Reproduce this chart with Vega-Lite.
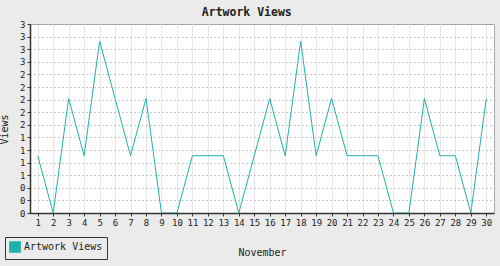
{
  "$schema": "https://vega.github.io/schema/vega-lite/v6.json",
  "width": 464,
  "height": 189,
  "autosize": {"type": "none"},
  "padding": {"left": 30, "top": 24, "right": 6, "bottom": 53},
  "background": "#ebebeb",
  "title": {"text": "Artwork Views", "font": "DejaVu Sans Mono", "fontSize": 11.5, "fontWeight": "bold", "color": "#222222", "offset": 2, "frame": "bounds"},
  "config": {
    "view": {"stroke": "#aaaaaa", "fill": "white"},
    "font": "DejaVu Sans Mono"
  },
  "data": {"values": [
    {"day": 1, "views": 1, "series": "Artwork Views"},
    {"day": 2, "views": 0, "series": "Artwork Views"},
    {"day": 3, "views": 2, "series": "Artwork Views"},
    {"day": 4, "views": 1, "series": "Artwork Views"},
    {"day": 5, "views": 3, "series": "Artwork Views"},
    {"day": 6, "views": 2, "series": "Artwork Views"},
    {"day": 7, "views": 1, "series": "Artwork Views"},
    {"day": 8, "views": 2, "series": "Artwork Views"},
    {"day": 9, "views": 0, "series": "Artwork Views"},
    {"day": 10, "views": 0, "series": "Artwork Views"},
    {"day": 11, "views": 1, "series": "Artwork Views"},
    {"day": 12, "views": 1, "series": "Artwork Views"},
    {"day": 13, "views": 1, "series": "Artwork Views"},
    {"day": 14, "views": 0, "series": "Artwork Views"},
    {"day": 15, "views": 1, "series": "Artwork Views"},
    {"day": 16, "views": 2, "series": "Artwork Views"},
    {"day": 17, "views": 1, "series": "Artwork Views"},
    {"day": 18, "views": 3, "series": "Artwork Views"},
    {"day": 19, "views": 1, "series": "Artwork Views"},
    {"day": 20, "views": 2, "series": "Artwork Views"},
    {"day": 21, "views": 1, "series": "Artwork Views"},
    {"day": 22, "views": 1, "series": "Artwork Views"},
    {"day": 23, "views": 1, "series": "Artwork Views"},
    {"day": 24, "views": 0, "series": "Artwork Views"},
    {"day": 25, "views": 0, "series": "Artwork Views"},
    {"day": 26, "views": 2, "series": "Artwork Views"},
    {"day": 27, "views": 1, "series": "Artwork Views"},
    {"day": 28, "views": 1, "series": "Artwork Views"},
    {"day": 29, "views": 0, "series": "Artwork Views"},
    {"day": 30, "views": 2, "series": "Artwork Views"}
  ]},
  "mark": {"type": "line", "strokeWidth": 1, "clip": true},
  "encoding": {
    "x": {
      "field": "day", "type": "ordinal",
      "scale": {"type": "point", "padding": 0.5},
      "axis": {
        "title": "November", "titleFont": "DejaVu Sans Mono", "titleFontSize": 10, "titleFontWeight": "normal", "titleColor": "#222222", "titlePadding": 20,
        "labelAngle": 0, "labelFont": "DejaVu Sans Mono", "labelFontSize": 9, "labelColor": "#222222", "labelPadding": 2,
        "domainColor": "#333333", "domainWidth": 1.5, "tickColor": "#333333", "tickSize": 3,
        "grid": true, "gridColor": "#e6e6e6", "gridWidth": 1
      }
    },
    "y": {
      "field": "views", "type": "quantitative",
      "scale": {"domain": [0, 3.3], "nice": false, "zero": true},
      "axis": {
        "title": "Views", "titleFont": "DejaVu Sans Mono", "titleFontSize": 10, "titleFontWeight": "normal", "titleColor": "#222222", "titlePadding": 10, "titleY": 105,
        "values": [0, 0.22, 0.44, 0.66, 0.88, 1.1, 1.32, 1.54, 1.76, 1.98, 2.2, 2.42, 2.64, 2.86, 3.08, 3.3],
        "format": ".0f",
        "labelFont": "DejaVu Sans Mono", "labelFontSize": 9, "labelColor": "#222222", "labelPadding": 2,
        "domainColor": "#333333", "domainWidth": 1.5, "tickColor": "#333333", "tickSize": 3,
        "grid": true, "gridColor": "#999999", "gridDash": [1, 3], "gridWidth": 1
      }
    },
    "color": {
      "field": "series", "type": "nominal",
      "scale": {"range": ["#20b2aa"]},
      "legend": {
        "title": null, "orient": "none", "legendX": -25, "legendY": 213,
        "direction": "vertical",
        "strokeColor": "#333333", "padding": 4, "fillColor": "#ebebeb",
        "symbolType": "square", "symbolSize": 110, "symbolStrokeWidth": 1,
        "labelFont": "DejaVu Sans Mono", "labelFontSize": 10, "labelColor": "#222222", "labelOffset": 3,
        "encode": {"symbols": {"update": {"fill": {"value": "#20b2aa"}, "stroke": {"value": "#333333"}, "strokeWidth": {"value": 1.2}}}}
      }
    }
  }
}
